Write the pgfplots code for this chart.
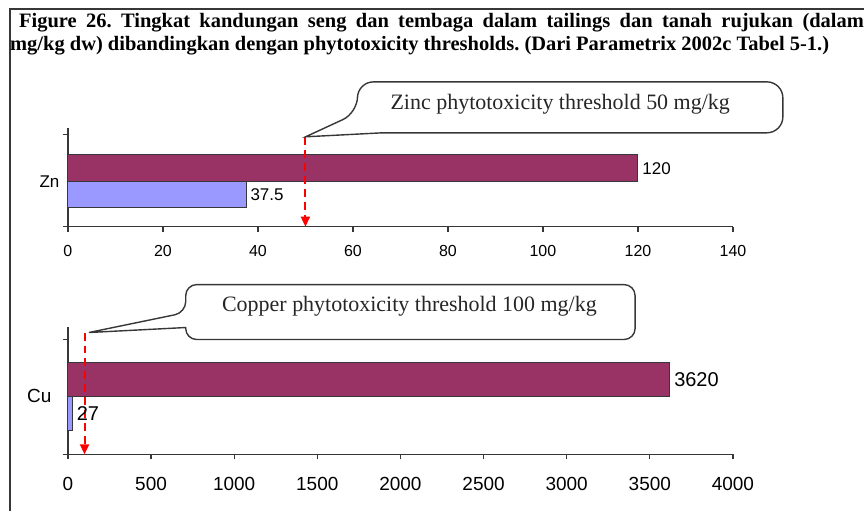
\documentclass[border=0pt]{standalone}
\usepackage{pgfplots}
\pgfplotsset{compat=1.18}
\usepackage{fontspec}
\setmainfont{Liberation Serif}
\newfontfamily\arial{Liberation Sans}
\usetikzlibrary{arrows.meta}
\definecolor{barpurple}{RGB}{153,51,102}
\definecolor{barblue}{RGB}{153,153,255}
\definecolor{axgray}{RGB}{55,55,55}
\frenchspacing
\pgfplotsset{
  mybar/.style={
    scale only axis, width=666bp, xmin=0, clip=false,
    axis lines=left, axis line style={-, axgray, line width=1.2bp},
    tick style={axgray, line width=1.2bp},
    tick align=outside, major tick length=5bp,
    xtick pos=left, ytick pos=left,
    /pgf/number format/1000 sep={},
    /pgf/number format/assume math mode=true,
    yticklabels={},
  },
}
\begin{document}
\begin{tikzpicture}
\begin{scope}[x=1bp,y=-1bp]
\path (0,0) rectangle (865,512);
\end{scope}
% ---------------- Zn ----------------
\begin{axis}[mybar, at={(68bp,-227bp)}, anchor=south west, height=99bp,
  xmax=140, xtick={0,20,...,140}, ymin=-45, ymax=54,
  ytick={-45,47},
  extra y ticks={0}, extra y tick labels={Zn},
  extra y tick style={major tick length=0pt, yticklabel style={font=\arial\fontsize{17bp}{17bp}\selectfont, xshift=-5bp}},
  xticklabel style={font=\arial\fontsize{16bp}{16bp}\selectfont, yshift=-10bp},
]
\addplot[xbar, bar width=27, bar shift=0, fill=barpurple, draw=axgray, line width=1bp,
  point meta=x, nodes near coords, nodes near coords style={font=\arial\fontsize{17bp}{17bp}\selectfont, black, inner sep=4bp}]
  coordinates {(120,13.5)};
\addplot[xbar, bar width=26, bar shift=0, fill=barblue, draw=axgray, line width=1bp,
  point meta=x, nodes near coords, nodes near coords style={font=\arial\fontsize{17bp}{17bp}\selectfont, black, inner sep=4bp}]
  coordinates {(37.5,-13)};
\addplot[red, line width=2bp, dash pattern=on 8bp off 5bp, -{Triangle[width=9bp,length=10bp]}]
  coordinates {(50,45) (50,-45)};
\end{axis}
% ---------------- Cu ----------------
\begin{axis}[mybar, at={(68bp,-455bp)}, anchor=south west, height=128bp,
  xmax=4000, xtick={0,500,...,4000}, ymin=-58, ymax=70,
  ytick={-58,57},
  extra y ticks={0}, extra y tick labels={Cu},
  extra y tick style={major tick length=0pt, yticklabel style={font=\arial\fontsize{19bp}{19bp}\selectfont, xshift=-13bp}},
  xticklabel style={font=\arial\fontsize{19bp}{19bp}\selectfont, yshift=-14bp},
]
\addplot[xbar, bar width=34, bar shift=0, fill=barpurple, draw=axgray, line width=1bp,
  point meta=x, nodes near coords, nodes near coords style={font=\arial\fontsize{20bp}{20bp}\selectfont, black, inner sep=4bp}]
  coordinates {(3620,17)};
\addplot[xbar, bar width=34, bar shift=0, fill=barblue, draw=axgray, line width=1bp,
  point meta=x, nodes near coords, nodes near coords style={font=\arial\fontsize{20bp}{20bp}\selectfont, black, inner sep=4bp}]
  coordinates {(27,-17)};
\addplot[red, line width=2bp, dash pattern=on 8bp off 5bp, -{Triangle[width=9bp,length=10bp]}]
  coordinates {(100,64) (100,-58)};
\end{axis}
\begin{scope}[x=1bp,y=-1bp]
% frame
\draw[axgray, line width=2.5bp] (10,512) -- (10,9) -- (865,9);
% title
\node[anchor=base west, inner sep=0] at (19,28) {\fontsize{20.5bp}{22bp}\selectfont\bfseries\makebox[846bp][s]{Figure 26. Tingkat kandungan seng dan tembaga dalam tailings dan tanah rujukan (dalam}};
\node[anchor=base west, inner sep=0] at (10,51) {\fontsize{20.5bp}{22bp}\selectfont\bfseries mg/kg dw) dibandingkan dengan phytotoxicity thresholds. (Dari Parametrix 2002c Tabel 5-1.)};
% callouts
\draw[axgray, line width=1.4bp, fill=white] (358,113) [sharp corners]-- (306,137) -- (383,133) [rounded corners=16bp]-- (784,133) -- (784,82) -- (358,82) -- cycle;
\node[font=\fontsize{22bp}{22bp}\selectfont, text=black!85] at (561,104) {Zinc phytotoxicity threshold 50 mg/kg};
\draw[axgray, line width=1.4bp, fill=white] (186,313) [sharp corners]-- (89,333) -- (186,328) [rounded corners=11bp]-- (186,340) -- (636,340) -- (636,285) -- (186,285) -- cycle;
\node[font=\fontsize{22bp}{22bp}\selectfont, text=black!85] at (410,307) {Copper phytotoxicity threshold 100 mg/kg};
\end{scope}
\end{tikzpicture}
\end{document}
